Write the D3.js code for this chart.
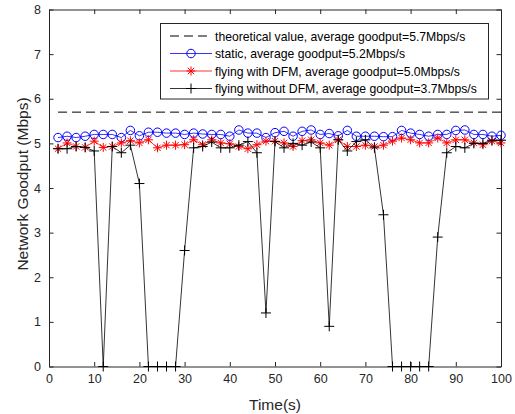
<!DOCTYPE html>
<html>
<head>
<meta charset="utf-8">
<script src="https://cdn.jsdelivr.net/npm/d3@7"></script>
<style>
body { margin: 0; background: #fff; }
text { font-family: "Liberation Sans", Arial, sans-serif; }
</style>
</head>
<body>
<div class="svg-point"></div>
<script>
var times = [2,4,6,8,10,12,14,16,18,20,22,24,26,28,30,32,34,36,38,40,42,44,46,48,50,
	52,54,56,58,60,62,64,66,68,70,72,74,76,78,80,82,84,86,88,90,92,94,96,98,100];

var theoretical = 5.7;

var staticVals = [5.13,5.16,5.13,5.16,5.2,5.2,5.2,5.13,5.29,5.17,5.25,5.25,5.23,5.23,5.2,5.23,5.21,5.2,5.2,5.16,5.3,5.23,5.23,5.13,5.24,
	5.27,5.16,5.27,5.3,5.2,5.22,5.17,5.29,5.16,5.16,5.16,5.15,5.15,5.29,5.23,5.2,5.16,5.2,5.2,5.29,5.3,5.2,5.2,5.16,5.18];

var dfmVals = [4.88,5.01,4.93,4.91,5.05,4.91,4.93,5.01,5.06,5.01,5.08,4.9,4.96,4.96,4.97,5.08,4.97,5.08,5.01,4.99,4.93,4.88,4.97,5.05,5.05,
	5.01,4.93,5.06,5.08,5.01,4.96,5.08,4.93,4.93,4.96,4.93,4.96,5.05,5.12,5.08,5.01,5.01,5.12,5.01,5.08,5.08,5.01,4.97,5.05,5.01];

var noDfmVals = [4.88,4.88,4.93,4.91,4.83,0,4.93,4.79,4.96,4.1,0,0,0,0,2.6,4.9,4.93,5.03,4.9,4.9,4.96,5.04,4.79,1.2,5.04,
	4.9,5.0,4.96,5.03,4.9,0.9,5.08,4.83,5.04,5.08,4.9,3.4,0,0,0,0,0,2.9,4.79,4.93,4.9,5.0,5.0,5.07,5.07];

var legendLabels = [
	"theoretical value, average goodput=5.7Mbps/s",
	"static, average goodput=5.2Mbps/s",
	"flying with DFM, average goodput=5.0Mbps/s",
	"flying without DFM, average goodput=3.7Mbps/s"
];

var xTicks = [0,10,20,30,40,50,60,70,80,90,100];
var yTicks = [0,1,2,3,4,5,6,7,8];

var W = 515, H = 414;
var m = {left: 49, right: 14, top: 9.5, bottom: 47.5};
var axisColor = "#262626";

var x = d3.scaleLinear().domain([0, 100]).range([m.left, W - m.right]);
var y = d3.scaleLinear().domain([0, 8]).range([H - m.bottom, m.top]);

var svg = d3.select(".svg-point").append("svg")
	.attr("width", W)
	.attr("height", H);

// axes, MATLAB style: ticks inside, box on
var tl = 4.5;
svg.append("g")
	.attr("transform", "translate(0," + y(0) + ")")
	.call(d3.axisBottom(x).tickValues(xTicks).tickSizeInner(-tl).tickSizeOuter(0).tickPadding(8))
	.call(styleAxis);
svg.append("g")
	.attr("transform", "translate(0," + y(8) + ")")
	.call(d3.axisTop(x).tickValues(xTicks).tickSizeInner(-tl).tickSizeOuter(0).tickFormat(""))
	.call(styleAxis);
svg.append("g")
	.attr("transform", "translate(" + x(0) + ",0)")
	.call(d3.axisLeft(y).tickValues(yTicks).tickSizeInner(-tl).tickSizeOuter(0).tickPadding(8))
	.call(styleAxis);
svg.append("g")
	.attr("transform", "translate(" + x(100) + ",0)")
	.call(d3.axisRight(y).tickValues(yTicks).tickSizeInner(-tl).tickSizeOuter(0).tickFormat(""))
	.call(styleAxis);

function styleAxis(g) {
	g.select(".domain").attr("stroke", axisColor).attr("stroke-width", 1);
	g.selectAll(".tick line").attr("stroke", axisColor);
	g.selectAll(".tick text").attr("fill", axisColor).style("font-size", "12.5px")
		.style("font-family", "'Liberation Sans', Arial, sans-serif");
}

svg.append("text")
	.attr("x", (x(0) + x(100)) / 2)
	.attr("y", 410)
	.attr("text-anchor", "middle")
	.attr("fill", axisColor)
	.style("font-size", "15.5px")
	.text("Time(s)");

svg.append("text")
	.attr("transform", "translate(28,184)rotate(-90)")
	.attr("text-anchor", "middle")
	.attr("fill", axisColor)
	.style("font-size", "15.5px")
	.text("Network Goodput (Mbps)");

// series
var line = d3.line()
	.x(function(d) { return x(d[0]); })
	.y(function(d) { return y(d[1]); });

function pairs(vals) {
	return times.map(function(t, i) { return [t, vals[i]]; });
}

svg.append("path")
	.datum([[times[0], theoretical], [times[times.length - 1], theoretical]])
	.attr("d", line)
	.attr("fill", "none")
	.attr("stroke", "#000")
	.attr("stroke-width", 1)
	.attr("stroke-dasharray", "9,5");

function star(g, s) {
	var r = s / 2, d = r * 0.7071;
	g.append("path").attr("d", "M" + -r + ",0H" + r + "M0," + -r + "V" + r +
		"M" + -d + "," + -d + "L" + d + "," + d + "M" + -d + "," + d + "L" + d + "," + -d);
}
function plus(g, s) {
	var r = s / 2;
	g.append("path").attr("d", "M" + -r + ",0H" + r + "M0," + -r + "V" + r);
}
function circle(g, s) {
	g.append("circle").attr("r", s / 2).attr("fill", "none");
}

var series = [
	{vals: staticVals, color: "#0000ff", marker: circle, size: 8.5},
	{vals: dfmVals, color: "#ff0000", marker: star, size: 9},
	{vals: noDfmVals, color: "#000000", marker: plus, size: 10}
];

series.forEach(function(s) {
	var data = pairs(s.vals);
	svg.append("path")
		.datum(data)
		.attr("d", line)
		.attr("fill", "none")
		.attr("stroke", s.color)
		.attr("stroke-width", 0.8);
	svg.append("g").selectAll("g")
		.data(data)
		.enter().append("g")
		.attr("transform", function(d) { return "translate(" + x(d[0]) + "," + y(d[1]) + ")"; })
		.attr("stroke", s.color)
		.attr("stroke-width", 1)
		.each(function() { s.marker(d3.select(this), s.size); });
});

// legend
var lg = svg.append("g");
lg.append("rect")
	.attr("x", 160.5).attr("y", 23.5)
	.attr("width", 328).attr("height", 75.5)
	.attr("fill", "#fff")
	.attr("stroke", axisColor);

var rowY = [36, 53.5, 71, 88.5];
legendLabels.forEach(function(label, i) {
	var row = lg.append("g").attr("transform", "translate(0," + rowY[i] + ")");
	var seg = row.append("line")
		.attr("x1", 170).attr("x2", 212)
		.attr("y1", 0).attr("y2", 0)
		.attr("stroke", i == 0 ? "#000" : series[i - 1].color)
		.attr("stroke-width", i == 0 ? 1 : 0.8);
	if (i == 0) seg.attr("stroke-dasharray", "9,5");
	else {
		var mk = row.append("g").attr("transform", "translate(191,0)")
			.attr("stroke", series[i - 1].color);
		series[i - 1].marker(mk, series[i - 1].size);
	}
	row.append("text")
		.attr("x", 215)
		.attr("y", 4.5)
		.attr("fill", "#000")
		.style("font-size", "12.2px")
		.text(label);
});
</script>
</body>
</html>
